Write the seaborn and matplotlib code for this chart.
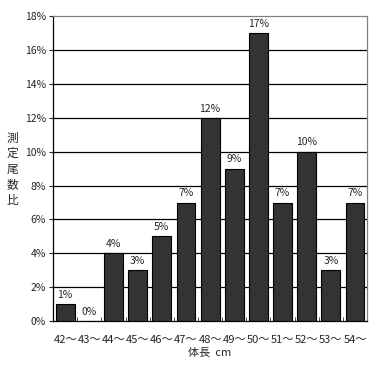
import numpy as np
import pandas as pd
import seaborn as sns
import matplotlib.pyplot as plt

categories = ['42～', '43～', '44～', '45～', '46～', '47～', '48～', '49～', '50～', '51～', '52～', '53～', '54～']
values = [1, 0, 4, 3, 5, 7, 12, 9, 17, 7, 10, 3, 7]
yticks = [0, 2, 4, 6, 8, 10, 12, 14, 16, 18]
ylabel_chars = ['測', '定', '尾', '数', '比']

sns.set_style('white')
plt.rcParams['font.family'] = ['Noto Sans CJK JP', 'DejaVu Sans']

df = pd.DataFrame({'cat': categories, 'val': values})

fig = plt.figure(figsize=(3.82, 3.65), dpi=100)
ax = fig.add_axes([0.139, 0.12, 0.822, 0.836])

sns.barplot(data=df, x='cat', y='val', ax=ax, color='#333333', width=0.78,
            edgecolor='black', linewidth=0.8, saturation=1, zorder=3)

for i, v in enumerate(values):
    ax.text(i, v + 0.25, f'{v}%', ha='center', va='bottom', fontsize=7.5, zorder=4)

ax.set_ylim(0, 18)
ax.set_xlim(-0.5, len(categories) - 0.5)
ax.set_yticks(yticks)
ax.set_yticklabels([f'{t}%' for t in yticks], fontsize=7.5)
ax.set_xticks(range(len(categories)))
ax.set_xticklabels(categories, fontsize=8)
ax.tick_params(axis='x', length=0, pad=10)
ax.tick_params(axis='y', length=3, direction='out', left=True, pad=2)
ax.set_xticks(np.arange(0.5, len(categories) - 0.5, 1), minor=True)
ax.tick_params(axis='x', which='minor', length=3, direction='in', bottom=True)

for t in yticks[1:-1]:
    ax.axhline(t, color='black', linewidth=0.9, zorder=1)

for s in ['top', 'right']:
    ax.spines[s].set_color('#808080')
for s in ['left', 'bottom']:
    ax.spines[s].set_color('black')
for s in ax.spines.values():
    s.set_linewidth(0.9)

ax.set_xlabel('体長  cm', fontsize=8, labelpad=2)
ax.set_ylabel('')
for k, ch in enumerate(ylabel_chars):
    fig.text(0.032, 0.622 - k * 0.0425, ch, fontsize=8.5, ha='center', va='center')

fig.savefig('out.png', dpi=100)
